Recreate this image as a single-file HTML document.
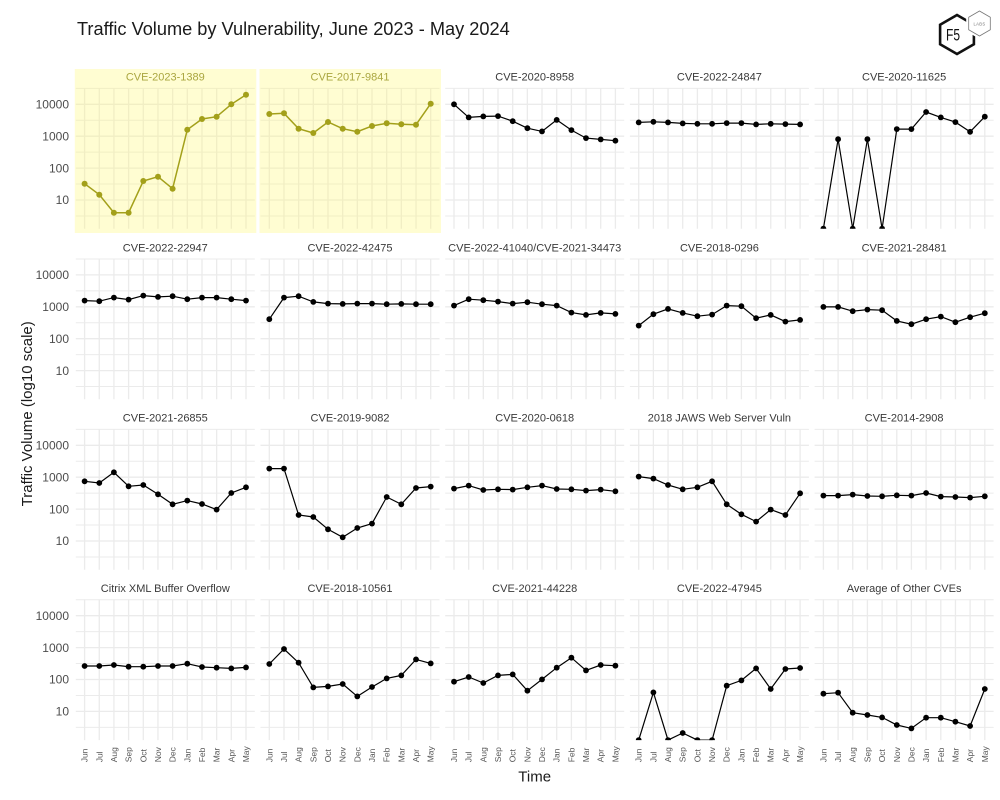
<!DOCTYPE html>
<html><head><meta charset="utf-8"><style>
html,body{margin:0;padding:0;background:#fff;}
svg{display:block;font-family:"Liberation Sans",Arial,Helvetica,sans-serif;}
</style></head><body>
<svg width="1000" height="800" viewBox="0 0 1000 800" xmlns="http://www.w3.org/2000/svg">
<defs>
<clipPath id="pc" clipPathUnits="userSpaceOnUse"><rect x="0" y="0" width="179" height="140.7"/></clipPath>
<g id="grid" fill="none">
<path stroke-width="1.0" d="M0 0.35H179M0 32.25H179M0 64.15H179M0 96.05H179M0 127.95H179"/>
<path stroke-width="1.3" d="M0 16.3H179M0 48.2H179M0 80.1H179M0 112H179M8.8 0V140.7M23.47 0V140.7M38.14 0V140.7M52.82 0V140.7M67.49 0V140.7M82.16 0V140.7M96.83 0V140.7M111.5 0V140.7M126.18 0V140.7M140.85 0V140.7M155.52 0V140.7M170.19 0V140.7"/>
</g>
<marker id="kd" markerWidth="8" markerHeight="8" refX="4" refY="4" markerUnits="userSpaceOnUse"><circle cx="4" cy="4" r="2.9" fill="#000"/></marker>
<marker id="od" markerWidth="8" markerHeight="8" refX="4" refY="4" markerUnits="userSpaceOnUse"><circle cx="4" cy="4" r="3.0" fill="#a3a01a"/></marker>
</defs>
<rect width="1000" height="800" fill="#fff"/>

<!-- Title -->
<text x="77" y="35" font-size="18.2" fill="#1a1a1a">Traffic Volume by Vulnerability, June 2023 - May 2024</text>

<!-- Logo -->
<g>
<polygon points="957,15 973.9,24.75 973.9,44.25 957,54 940.1,44.25 940.1,24.75" fill="none" stroke="#111" stroke-width="2.6"/>
<polygon points="979.5,11 990.3,17.25 990.3,29.75 979.5,36 968.7,29.75 968.7,17.25" fill="#fff" stroke="#fff" stroke-width="5"/>
<polygon points="979.5,11 990.3,17.25 990.3,29.75 979.5,36 968.7,29.75 968.7,17.25" fill="#fff" stroke="#777" stroke-width="0.8"/>
<text x="979.5" y="25.5" font-size="4.2" fill="#777" text-anchor="middle" letter-spacing="0.3">LABS</text>
<text x="946" y="40.5" font-size="17" fill="#111" textLength="14" lengthAdjust="spacingAndGlyphs">F5</text>
</g>

<!-- Axis titles -->
<text x="534.7" y="781.5" font-size="15" fill="#1a1a1a" text-anchor="middle">Time</text>
<text transform="translate(32,413.8) rotate(-90)" font-size="15" fill="#1a1a1a" text-anchor="middle">Traffic Volume (log10 scale)</text>

<!-- Y tick labels -->
<g font-size="12" fill="#4d4d4d" text-anchor="end">
<text x="69" y="108.5">10000</text><text x="69" y="140.4">1000</text><text x="69" y="172.3">100</text><text x="69" y="204.2">10</text>
<text x="69" y="279.1">10000</text><text x="69" y="311.0">1000</text><text x="69" y="342.9">100</text><text x="69" y="374.8">10</text>
<text x="69" y="449.5">10000</text><text x="69" y="481.4">1000</text><text x="69" y="513.3">100</text><text x="69" y="545.2">10</text>
<text x="69" y="619.9">10000</text><text x="69" y="651.8">1000</text><text x="69" y="683.7">100</text><text x="69" y="715.6">10</text>
</g>

<!-- ROW 1 -->
<g transform="translate(75.8,88)">
<rect x="-1" y="-19" width="181.5" height="164" fill="#fffdd2"/>
<use href="#grid" stroke="#f1eec4"/>
<text x="89.5" y="-7.3" font-size="11" fill="#aaa640" text-anchor="middle">CVE-2023-1389</text>
<g clip-path="url(#pc)"><polyline fill="none" stroke="#a3a01a" stroke-width="1.5" marker-start="url(#od)" marker-mid="url(#od)" marker-end="url(#od)" points="8.8,95.7 23.5,106.7 38.1,124.7 52.8,124.7 67.5,93.0 82.2,88.7 96.8,100.7 111.5,41.7 126.2,31.0 140.8,28.7 155.5,16.3 170.2,6.7"/></g>
</g>
<g transform="translate(260.5,88)">
<rect x="-1" y="-19" width="181.5" height="164" fill="#fffdd2"/>
<use href="#grid" stroke="#f1eec4"/>
<text x="89.5" y="-7.3" font-size="11" fill="#aaa640" text-anchor="middle">CVE-2017-9841</text>
<g clip-path="url(#pc)"><polyline fill="none" stroke="#a3a01a" stroke-width="1.5" marker-start="url(#od)" marker-mid="url(#od)" marker-end="url(#od)" points="8.8,26.0 23.5,25.3 38.1,40.7 52.8,45.0 67.5,34.0 82.2,40.7 96.8,43.7 111.5,38.0 126.2,35.3 140.8,36.3 155.5,36.7 170.2,15.7"/></g>
</g>
<g transform="translate(445.2,88)">
<use href="#grid" stroke="#ebebeb"/>
<text x="89.5" y="-7.3" font-size="11" fill="#3a3a3a" text-anchor="middle">CVE-2020-8958</text>
<g clip-path="url(#pc)"><polyline fill="none" stroke="#000" stroke-width="1.2" marker-start="url(#kd)" marker-mid="url(#kd)" marker-end="url(#kd)" points="8.8,16.3 23.5,29.4 38.1,28.4 52.8,28.1 67.5,33.2 82.2,40.2 96.8,43.4 111.5,31.9 126.2,42.1 140.8,50.1 155.5,51.4 170.2,52.7"/></g>
</g>
<g transform="translate(629.9,88)">
<use href="#grid" stroke="#ebebeb"/>
<text x="89.5" y="-7.3" font-size="11" fill="#3a3a3a" text-anchor="middle">CVE-2022-24847</text>
<g clip-path="url(#pc)"><polyline fill="none" stroke="#000" stroke-width="1.2" marker-start="url(#kd)" marker-mid="url(#kd)" marker-end="url(#kd)" points="8.8,34.4 23.5,33.8 38.1,34.4 52.8,35.4 67.5,35.8 82.2,35.8 96.8,35.1 111.5,35.1 126.2,36.4 140.8,35.8 155.5,36.1 170.2,36.4"/></g>
</g>
<g transform="translate(814.6,88)">
<use href="#grid" stroke="#ebebeb"/>
<text x="89.5" y="-7.3" font-size="11" fill="#3a3a3a" text-anchor="middle">CVE-2020-11625</text>
<g clip-path="url(#pc)"><polyline fill="none" stroke="#000" stroke-width="1.2" marker-start="url(#kd)" marker-mid="url(#kd)" marker-end="url(#kd)" points="8.8,140.7 23.5,51.2 38.1,140.7 52.8,51.2 67.5,140.7 82.2,41.1 96.8,41.1 111.5,24.0 126.2,29.4 140.8,34.1 155.5,43.8 170.2,28.7"/></g>
</g>

<!-- ROW 2 -->
<g transform="translate(75.8,258.6)">
<use href="#grid" stroke="#ebebeb"/>
<text x="89.5" y="-7.3" font-size="11" fill="#3a3a3a" text-anchor="middle">CVE-2022-22947</text>
<g clip-path="url(#pc)"><polyline fill="none" stroke="#000" stroke-width="1.2" marker-start="url(#kd)" marker-mid="url(#kd)" marker-end="url(#kd)" points="8.8,42.0 23.5,42.6 38.1,39.0 52.8,41.0 67.5,37.0 82.2,38.3 96.8,37.6 111.5,40.6 126.2,39.0 140.8,39.0 155.5,40.6 170.2,42.0"/></g>
</g>
<g transform="translate(260.5,258.6)">
<use href="#grid" stroke="#ebebeb"/>
<text x="89.5" y="-7.3" font-size="11" fill="#3a3a3a" text-anchor="middle">CVE-2022-42475</text>
<g clip-path="url(#pc)"><polyline fill="none" stroke="#000" stroke-width="1.2" marker-start="url(#kd)" marker-mid="url(#kd)" marker-end="url(#kd)" points="8.8,60.6 23.5,39.0 38.1,37.6 52.8,43.3 67.5,45.0 82.2,45.3 96.8,45.0 111.5,45.0 126.2,45.6 140.8,45.3 155.5,45.6 170.2,45.6"/></g>
</g>
<g transform="translate(445.2,258.6)">
<use href="#grid" stroke="#ebebeb"/>
<text x="89.5" y="-7.3" font-size="11" fill="#3a3a3a" text-anchor="middle">CVE-2022-41040/CVE-2021-34473</text>
<g clip-path="url(#pc)"><polyline fill="none" stroke="#000" stroke-width="1.2" marker-start="url(#kd)" marker-mid="url(#kd)" marker-end="url(#kd)" points="8.8,47.0 23.5,40.6 38.1,41.6 52.8,43.0 67.5,45.0 82.2,43.6 96.8,45.6 111.5,47.0 126.2,54.0 140.8,56.3 155.5,54.3 170.2,55.3"/></g>
</g>
<g transform="translate(629.9,258.6)">
<use href="#grid" stroke="#ebebeb"/>
<text x="89.5" y="-7.3" font-size="11" fill="#3a3a3a" text-anchor="middle">CVE-2018-0296</text>
<g clip-path="url(#pc)"><polyline fill="none" stroke="#000" stroke-width="1.2" marker-start="url(#kd)" marker-mid="url(#kd)" marker-end="url(#kd)" points="8.8,67.0 23.5,55.6 38.1,50.3 52.8,54.3 67.5,57.6 82.2,56.0 96.8,47.0 111.5,47.6 126.2,59.6 140.8,56.3 155.5,63.0 170.2,61.3"/></g>
</g>
<g transform="translate(814.6,258.6)">
<use href="#grid" stroke="#ebebeb"/>
<text x="89.5" y="-7.3" font-size="11" fill="#3a3a3a" text-anchor="middle">CVE-2021-28481</text>
<g clip-path="url(#pc)"><polyline fill="none" stroke="#000" stroke-width="1.2" marker-start="url(#kd)" marker-mid="url(#kd)" marker-end="url(#kd)" points="8.8,48.3 23.5,48.3 38.1,52.6 52.8,51.0 67.5,51.6 82.2,62.3 96.8,65.6 111.5,60.6 126.2,58.0 140.8,63.6 155.5,58.6 170.2,54.6"/></g>
</g>

<!-- ROW 3 -->
<g transform="translate(75.8,429)">
<use href="#grid" stroke="#ebebeb"/>
<text x="89.5" y="-7.3" font-size="11" fill="#3a3a3a" text-anchor="middle">CVE-2021-26855</text>
<g clip-path="url(#pc)"><polyline fill="none" stroke="#000" stroke-width="1.2" marker-start="url(#kd)" marker-mid="url(#kd)" marker-end="url(#kd)" points="8.8,52.3 23.5,54.0 38.1,43.3 52.8,57.3 67.5,56.0 82.2,65.3 96.8,75.3 111.5,71.6 126.2,75.0 140.8,80.6 155.5,64.0 170.2,58.3"/></g>
</g>
<g transform="translate(260.5,429)">
<use href="#grid" stroke="#ebebeb"/>
<text x="89.5" y="-7.3" font-size="11" fill="#3a3a3a" text-anchor="middle">CVE-2019-9082</text>
<g clip-path="url(#pc)"><polyline fill="none" stroke="#000" stroke-width="1.2" marker-start="url(#kd)" marker-mid="url(#kd)" marker-end="url(#kd)" points="8.8,39.6 23.5,39.6 38.1,86.0 52.8,88.0 67.5,100.3 82.2,108.3 96.8,99.0 111.5,94.6 126.2,68.0 140.8,75.3 155.5,59.0 170.2,57.6"/></g>
</g>
<g transform="translate(445.2,429)">
<use href="#grid" stroke="#ebebeb"/>
<text x="89.5" y="-7.3" font-size="11" fill="#3a3a3a" text-anchor="middle">CVE-2020-0618</text>
<g clip-path="url(#pc)"><polyline fill="none" stroke="#000" stroke-width="1.2" marker-start="url(#kd)" marker-mid="url(#kd)" marker-end="url(#kd)" points="8.8,59.6 23.5,56.6 38.1,61.0 52.8,60.3 67.5,60.6 82.2,58.3 96.8,56.6 111.5,60.0 126.2,60.3 140.8,61.6 155.5,60.6 170.2,62.3"/></g>
</g>
<g transform="translate(629.9,429)">
<use href="#grid" stroke="#ebebeb"/>
<text x="89.5" y="-7.3" font-size="11" fill="#3a3a3a" text-anchor="middle">2018 JAWS Web Server Vuln</text>
<g clip-path="url(#pc)"><polyline fill="none" stroke="#000" stroke-width="1.2" marker-start="url(#kd)" marker-mid="url(#kd)" marker-end="url(#kd)" points="8.8,47.6 23.5,49.6 38.1,56.0 52.8,60.3 67.5,58.3 82.2,52.3 96.8,75.3 111.5,85.3 126.2,92.6 140.8,80.6 155.5,86.0 170.2,64.3"/></g>
</g>
<g transform="translate(814.6,429)">
<use href="#grid" stroke="#ebebeb"/>
<text x="89.5" y="-7.3" font-size="11" fill="#3a3a3a" text-anchor="middle">CVE-2014-2908</text>
<g clip-path="url(#pc)"><polyline fill="none" stroke="#000" stroke-width="1.2" marker-start="url(#kd)" marker-mid="url(#kd)" marker-end="url(#kd)" points="8.8,66.6 23.5,66.6 38.1,65.6 52.8,67.0 67.5,67.3 82.2,66.3 96.8,66.6 111.5,64.0 126.2,67.6 140.8,68.0 155.5,68.6 170.2,67.3"/></g>
</g>

<!-- ROW 4 -->
<g transform="translate(75.8,599.4)">
<use href="#grid" stroke="#ebebeb"/>
<text x="89.5" y="-7.3" font-size="11" fill="#3a3a3a" text-anchor="middle">Citrix XML Buffer Overflow</text>
<g clip-path="url(#pc)"><polyline fill="none" stroke="#000" stroke-width="1.2" marker-start="url(#kd)" marker-mid="url(#kd)" marker-end="url(#kd)" points="8.8,66.6 23.5,66.6 38.1,65.6 52.8,67.3 67.5,67.3 82.2,66.6 96.8,66.6 111.5,64.3 126.2,67.6 140.8,68.3 155.5,69.0 170.2,68.0"/></g>
<g font-size="8.5" fill="#555"><text transform="translate(11.8,162.9) rotate(-90)">Jun</text><text transform="translate(26.5,162.9) rotate(-90)">Jul</text><text transform="translate(41.1,162.9) rotate(-90)">Aug</text><text transform="translate(55.8,162.9) rotate(-90)">Sep</text><text transform="translate(70.5,162.9) rotate(-90)">Oct</text><text transform="translate(85.2,162.9) rotate(-90)">Nov</text><text transform="translate(99.8,162.9) rotate(-90)">Dec</text><text transform="translate(114.5,162.9) rotate(-90)">Jan</text><text transform="translate(129.2,162.9) rotate(-90)">Feb</text><text transform="translate(143.8,162.9) rotate(-90)">Mar</text><text transform="translate(158.5,162.9) rotate(-90)">Apr</text><text transform="translate(173.2,162.9) rotate(-90)">May</text></g>
</g>
<g transform="translate(260.5,599.4)">
<use href="#grid" stroke="#ebebeb"/>
<text x="89.5" y="-7.3" font-size="11" fill="#3a3a3a" text-anchor="middle">CVE-2018-10561</text>
<g clip-path="url(#pc)"><polyline fill="none" stroke="#000" stroke-width="1.2" marker-start="url(#kd)" marker-mid="url(#kd)" marker-end="url(#kd)" points="8.8,64.6 23.5,49.6 38.1,63.3 52.8,88.0 67.5,87.0 82.2,84.6 96.8,97.0 111.5,87.6 126.2,79.0 140.8,76.0 155.5,60.0 170.2,64.0"/></g>
<g font-size="8.5" fill="#555"><text transform="translate(11.8,162.9) rotate(-90)">Jun</text><text transform="translate(26.5,162.9) rotate(-90)">Jul</text><text transform="translate(41.1,162.9) rotate(-90)">Aug</text><text transform="translate(55.8,162.9) rotate(-90)">Sep</text><text transform="translate(70.5,162.9) rotate(-90)">Oct</text><text transform="translate(85.2,162.9) rotate(-90)">Nov</text><text transform="translate(99.8,162.9) rotate(-90)">Dec</text><text transform="translate(114.5,162.9) rotate(-90)">Jan</text><text transform="translate(129.2,162.9) rotate(-90)">Feb</text><text transform="translate(143.8,162.9) rotate(-90)">Mar</text><text transform="translate(158.5,162.9) rotate(-90)">Apr</text><text transform="translate(173.2,162.9) rotate(-90)">May</text></g>
</g>
<g transform="translate(445.2,599.4)">
<use href="#grid" stroke="#ebebeb"/>
<text x="89.5" y="-7.3" font-size="11" fill="#3a3a3a" text-anchor="middle">CVE-2021-44228</text>
<g clip-path="url(#pc)"><polyline fill="none" stroke="#000" stroke-width="1.2" marker-start="url(#kd)" marker-mid="url(#kd)" marker-end="url(#kd)" points="8.8,82.3 23.5,77.6 38.1,83.6 52.8,76.0 67.5,75.0 82.2,91.3 96.8,80.0 111.5,68.3 126.2,58.3 140.8,71.0 155.5,65.6 170.2,66.3"/></g>
<g font-size="8.5" fill="#555"><text transform="translate(11.8,162.9) rotate(-90)">Jun</text><text transform="translate(26.5,162.9) rotate(-90)">Jul</text><text transform="translate(41.1,162.9) rotate(-90)">Aug</text><text transform="translate(55.8,162.9) rotate(-90)">Sep</text><text transform="translate(70.5,162.9) rotate(-90)">Oct</text><text transform="translate(85.2,162.9) rotate(-90)">Nov</text><text transform="translate(99.8,162.9) rotate(-90)">Dec</text><text transform="translate(114.5,162.9) rotate(-90)">Jan</text><text transform="translate(129.2,162.9) rotate(-90)">Feb</text><text transform="translate(143.8,162.9) rotate(-90)">Mar</text><text transform="translate(158.5,162.9) rotate(-90)">Apr</text><text transform="translate(173.2,162.9) rotate(-90)">May</text></g>
</g>
<g transform="translate(629.9,599.4)">
<use href="#grid" stroke="#ebebeb"/>
<text x="89.5" y="-7.3" font-size="11" fill="#3a3a3a" text-anchor="middle">CVE-2022-47945</text>
<g clip-path="url(#pc)"><polyline fill="none" stroke="#000" stroke-width="1.2" marker-start="url(#kd)" marker-mid="url(#kd)" marker-end="url(#kd)" points="8.8,140.7 23.5,93.0 38.1,140.7 52.8,133.6 67.5,140.7 82.2,140.7 96.8,86.3 111.5,81.0 126.2,69.0 140.8,89.6 155.5,69.6 170.2,68.6"/></g>
<g font-size="8.5" fill="#555"><text transform="translate(11.8,162.9) rotate(-90)">Jun</text><text transform="translate(26.5,162.9) rotate(-90)">Jul</text><text transform="translate(41.1,162.9) rotate(-90)">Aug</text><text transform="translate(55.8,162.9) rotate(-90)">Sep</text><text transform="translate(70.5,162.9) rotate(-90)">Oct</text><text transform="translate(85.2,162.9) rotate(-90)">Nov</text><text transform="translate(99.8,162.9) rotate(-90)">Dec</text><text transform="translate(114.5,162.9) rotate(-90)">Jan</text><text transform="translate(129.2,162.9) rotate(-90)">Feb</text><text transform="translate(143.8,162.9) rotate(-90)">Mar</text><text transform="translate(158.5,162.9) rotate(-90)">Apr</text><text transform="translate(173.2,162.9) rotate(-90)">May</text></g>
</g>
<g transform="translate(814.6,599.4)">
<use href="#grid" stroke="#ebebeb"/>
<text x="89.5" y="-7.3" font-size="11" fill="#3a3a3a" text-anchor="middle">Average of Other CVEs</text>
<g clip-path="url(#pc)"><polyline fill="none" stroke="#000" stroke-width="1.2" marker-start="url(#kd)" marker-mid="url(#kd)" marker-end="url(#kd)" points="8.8,94.3 23.5,93.3 38.1,113.3 52.8,115.6 67.5,118.0 82.2,125.6 96.8,129.0 111.5,118.3 126.2,118.3 140.8,122.3 155.5,126.6 170.2,89.6"/></g>
<g font-size="8.5" fill="#555"><text transform="translate(11.8,162.9) rotate(-90)">Jun</text><text transform="translate(26.5,162.9) rotate(-90)">Jul</text><text transform="translate(41.1,162.9) rotate(-90)">Aug</text><text transform="translate(55.8,162.9) rotate(-90)">Sep</text><text transform="translate(70.5,162.9) rotate(-90)">Oct</text><text transform="translate(85.2,162.9) rotate(-90)">Nov</text><text transform="translate(99.8,162.9) rotate(-90)">Dec</text><text transform="translate(114.5,162.9) rotate(-90)">Jan</text><text transform="translate(129.2,162.9) rotate(-90)">Feb</text><text transform="translate(143.8,162.9) rotate(-90)">Mar</text><text transform="translate(158.5,162.9) rotate(-90)">Apr</text><text transform="translate(173.2,162.9) rotate(-90)">May</text></g>
</g>
</svg>
</body></html>
